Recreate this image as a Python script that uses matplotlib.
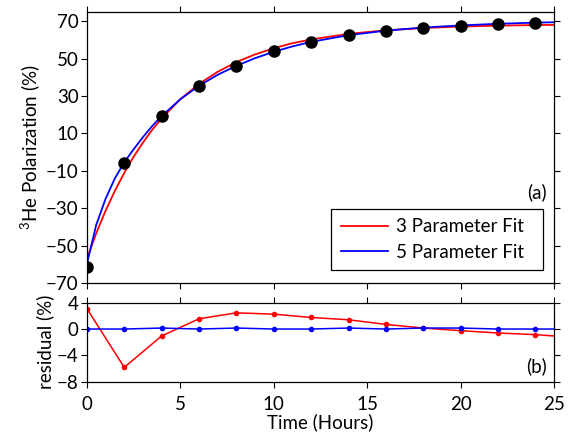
import matplotlib
matplotlib.use('Agg')
import matplotlib.pyplot as plt

plt.rcParams['font.family'] = ['Lato', 'DejaVu Sans']
plt.rcParams['mathtext.fontset'] = 'custom'
plt.rcParams['mathtext.rm'] = 'Lato'
plt.rcParams['font.size'] = 13.5

# measured polarization
t_data = [0, 2, 4, 6, 8, 10, 12, 14, 16, 18, 20, 22, 24]
p_data = [-61.3, -5.7, 19.6, 35.6, 46.1, 54.0, 59.0, 62.7, 65.0, 66.6, 67.7, 68.6, 69.1]

# fit curves
t_fit = [0, 0.5, 1, 1.5, 2, 2.5, 3, 3.5, 4, 5, 6, 7, 8, 9, 10, 11, 12, 14, 16, 18, 20, 22, 24, 25]
fit3 = [-57.0, -43.5, -31.4, -20.7, -11.1, -2.5, 5.1, 12.0, 18.0, 28.3, 36.5, 43.0, 48.2,
        52.3, 55.6, 58.3, 60.3, 63.3, 65.2, 66.4, 67.2, 67.7, 68.0, 68.1]
fit5 = [-60.0, -39.0, -25.0, -14.0, -5.5, 1.5, 8.0, 14.0, 19.3, 28.3, 35.5, 41.4, 46.2,
        50.3, 53.7, 56.6, 59.0, 62.6, 65.0, 66.7, 67.8, 68.7, 69.3, 69.5]

# residuals
t_res = [0, 2, 4, 6, 8, 10, 12, 14, 16, 18, 20, 22, 24, 26]
res3 = [3.1, -5.8, -1.05, 1.55, 2.45, 2.25, 1.75, 1.4, 0.7, 0.15, -0.25, -0.6, -0.85, -1.25]
res5 = [0.0, 0.0, 0.15, 0.0, 0.15, 0.0, 0.0, 0.15, 0.0, 0.15, 0.15, 0.0, 0.0, 0.0]

fig = plt.figure(figsize=(5.79, 4.36), dpi=100)
ax1 = fig.add_axes([0.150, 0.351, 0.807, 0.6215])
ax2 = fig.add_axes([0.150, 0.124, 0.807, 0.182])

#__________________________________________________________
# top panel
ax1.plot(t_fit, fit3, color='red', lw=1.3, label='3 Parameter Fit  ')
ax1.plot(t_fit, fit5, color='blue', lw=1.3, label='5 Parameter Fit  ')
ax1.plot(t_data, p_data, 'o', color='black', ms=8, zorder=3)
ax1.set_xlim(0, 25)
ax1.set_ylim(-70, 75)
ax1.set_yticks([-70, -50, -30, -10, 10, 30, 50, 70])
ax1.set_xticks([0, 5, 10, 15, 20, 25])
ax1.set_xticklabels([])
ax1.set_ylabel('$^{3}$He Polarization (%)', labelpad=2)
ax1.text(0.985, 0.335, '(a)', transform=ax1.transAxes, ha='right', va='center')
leg = ax1.legend(loc='lower right', bbox_to_anchor=(0.976, 0.048), fancybox=False,
                 framealpha=1, edgecolor='black', handlelength=2.5, borderpad=0.5,
                 labelspacing=0.45, borderaxespad=0, handletextpad=0.45)
leg.get_frame().set_linewidth(0.9)

#__________________________________________________________
# residual panel
ax2.plot(t_res, res3, '.-', color='red', lw=1.1, ms=6)
ax2.plot(t_res, res5, '.-', color='blue', lw=1.1, ms=6)
ax2.set_xlim(0, 25)
ax2.set_ylim(-8, 4)
ax2.set_yticks([-8, -4, 0, 4])
ax2.set_xticks([0, 5, 10, 15, 20, 25])
ax2.set_xlabel('Time (Hours)', labelpad=0)
ax2.set_ylabel('residual (%)', labelpad=2)
ax2.text(0.985, 0.2, '(b)', transform=ax2.transAxes, ha='right', va='center')

for ax in (ax1, ax2):
    ax.tick_params(direction='out', length=4, width=0.8, top=True, right=True, pad=2)
    for s in ax.spines.values():
        s.set_linewidth(0.9)
ax2.tick_params(axis='x', pad=6)

fig.align_ylabels([ax1, ax2])
fig.savefig('out.png', dpi=100)
